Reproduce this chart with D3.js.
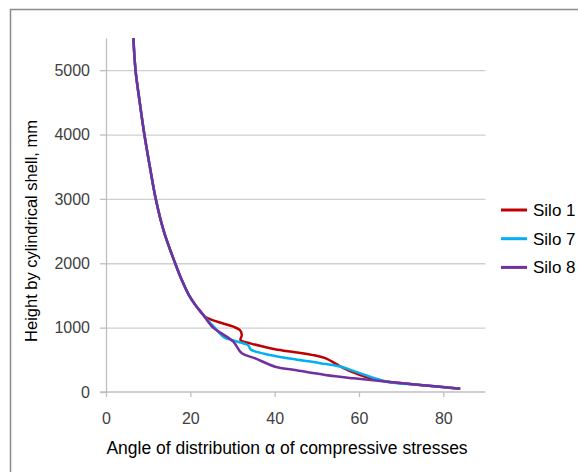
<!DOCTYPE html>
<html>
<head>
<meta charset="utf-8">
<script src="https://cdn.jsdelivr.net/npm/d3@7"></script>
<style>
  body { margin: 0; background: #fff; }
  svg { display: block; font-family: "Liberation Sans", Arial, sans-serif; }
</style>
</head>
<body>
<div id="chart"></div>
<script>
// values: [angle α, height mm]
const silo1 = [[6.5,5500],[7.0,5000],[8.0,4500],[9.1,4000],[10.4,3500],[11.8,3000],[13.7,2500],[16.4,2000],[17.9,1750],[19.7,1500],[21.2,1350],[22.6,1240],[23.6,1165],[25.1,1120],[27.8,1065],[30.2,1015],[31.8,960],[32.2,885],[31.9,805],[34.2,756],[37.0,710],[40.1,665],[44.8,618],[48.8,577],[52.0,525],[55.5,400],[58.0,320],[60.3,264],[63.4,200],[67.0,158],[74.5,109],[84.0,50]]
const silo7 = [[6.5,5500],[7.0,5000],[8.0,4500],[9.1,4000],[10.4,3500],[11.8,3000],[13.7,2500],[16.4,2000],[17.9,1750],[19.7,1500],[21.2,1350],[23.0,1200],[25.9,990],[27.8,860],[29.8,808],[33.4,738],[33.9,712],[34.3,660],[36.2,615],[38.5,580],[44.8,508],[50.8,448],[55.5,395],[60.3,290],[66.6,160],[74.5,109],[84.0,50]]
const silo8 = [[6.5,5500],[7.0,5000],[8.0,4500],[9.1,4000],[10.4,3500],[11.8,3000],[13.7,2500],[16.4,2000],[17.9,1750],[19.7,1500],[21.2,1350],[23.0,1200],[25.4,1000],[27.4,911],[30.2,781],[32.2,601],[35.4,523],[40.1,393],[44.8,342],[52.0,264],[58.7,212],[66.6,160],[74.5,109],[84.0,50]]

const xTicks = [0, 20, 40, 60, 80]
const yTicks = [0, 1000, 2000, 3000, 4000, 5000]
const seriesNames = ['Silo 1', 'Silo 7', 'Silo 8']
const seriesColors = ['#c00000', '#00b0f0', '#7030a0']

const width = 578, height = 475
const margin = { top: 38, right: 92.5, bottom: 83, left: 106 }

const svg = d3.select('#chart').append('svg')
    .attr('width', width)
    .attr('height', height)

// outer frame (only left and top edges show)
svg.append('path')
    .attr('d', 'M10.5,472V9.5H578')
    .attr('fill', 'none')
    .attr('stroke', '#8c8c8c')
    .attr('stroke-width', 1.5)

const x = d3.scaleLinear().domain([0, 90]).range([margin.left, width - margin.right])
const y = d3.scaleLinear().domain([0, 5500]).range([height - margin.bottom, margin.top])

// gridlines
svg.append('g')
    .attr('class', 'grid')
    .attr('transform', 'translate(' + margin.left + ',0)')
    .call(d3.axisLeft(y).tickValues(yTicks.slice(1)).tickSize(-(x(90) - margin.left)).tickFormat(''))
    .call(g => g.select('.domain').remove())
    .call(g => g.selectAll('line').attr('stroke', '#cfcfcf').attr('stroke-width', 1.3))

// y axis
svg.append('g')
    .attr('transform', 'translate(' + margin.left + ',0)')
    .call(d3.axisLeft(y).tickValues(yTicks).tickFormat(d3.format('d')).tickSize(6).tickPadding(10).tickSizeOuter(0))
    .call(g => g.select('.domain').attr('stroke', '#bfbfbf').attr('stroke-width', 1.3))
    .call(g => g.selectAll('line').attr('stroke', '#bfbfbf').attr('stroke-width', 1.3))
    .call(g => g.selectAll('text').attr('fill', '#404040').style('font-size', '16px'))

// x axis
svg.append('g')
    .attr('transform', 'translate(0,' + y(0) + ')')
    .call(d3.axisBottom(x).tickValues(xTicks).tickFormat(d3.format('d')).tickSize(5).tickPadding(16).tickSizeOuter(0))
    .call(g => g.select('.domain').attr('stroke', '#bfbfbf').attr('stroke-width', 1.3)
        .attr('d', 'M' + (margin.left - 6) + ',0H' + x(90)))
    .call(g => g.selectAll('line').attr('stroke', '#bfbfbf').attr('stroke-width', 1.3))
    .call(g => g.selectAll('text').attr('fill', '#404040').style('font-size', '16px'))

// lines
const line = d3.line()
    .x(d => x(d[0]))
    .y(d => y(d[1]))
    .curve(d3.curveCatmullRom.alpha(0.5))

;[silo1, silo7, silo8].forEach((data, i) => {
    svg.append('path')
        .datum(data)
        .attr('d', line)
        .attr('fill', 'none')
        .attr('stroke', seriesColors[i])
        .attr('stroke-width', 2.5)
        .attr('stroke-linejoin', 'round')
})

// axis titles
svg.append('text')
    .attr('x', 287)
    .attr('y', 454)
    .attr('text-anchor', 'middle')
    .style('font-size', '17.5px')
    .attr('fill', '#000')
    .text('Angle of distribution α of compressive stresses')

svg.append('text')
    .attr('transform', 'translate(37,231) rotate(-90)')
    .attr('text-anchor', 'middle')
    .style('font-size', '16.5px')
    .attr('fill', '#000')
    .text('Height by cylindrical shell, mm')

// legend
const legend = svg.append('g')
seriesNames.forEach((name, i) => {
    const ly = 210 + i * 28.7
    legend.append('line')
        .attr('x1', 501).attr('x2', 527)
        .attr('y1', ly).attr('y2', ly)
        .attr('stroke', seriesColors[i])
        .attr('stroke-width', 3)
    legend.append('text')
        .attr('x', 533)
        .attr('y', ly + 6)
        .style('font-size', '17px')
        .attr('fill', '#000')
        .text(name)
})
</script>
</body>
</html>
